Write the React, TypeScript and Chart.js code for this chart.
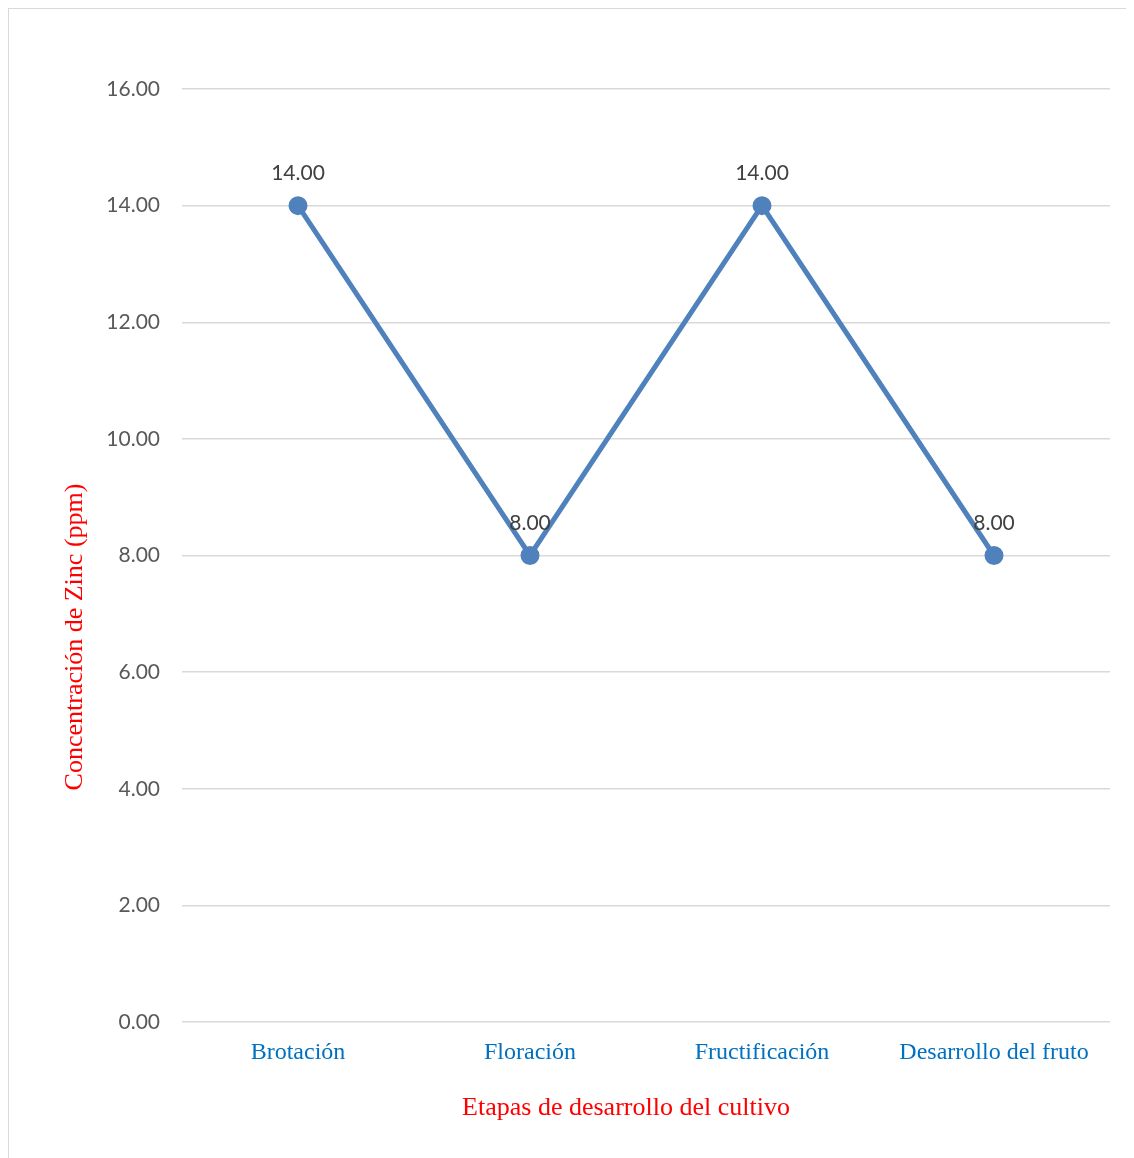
import React, { useEffect, useRef } from "react";
import { Chart, registerables } from "chart.js";

Chart.register(...registerables);

const categories = ["Brotación", "Floración", "Fructificación", "Desarrollo del fruto"];
const zincValues = [14, 8, 14, 8];
const yTitle = "Concentración de Zinc (ppm)";
const xTitle = "Etapas de desarrollo del cultivo";

const W = 1140;
const H = 1160;

export default function App() {
  const ref = useRef<HTMLCanvasElement | null>(null);
  useEffect(() => {
    document.documentElement.style.overflow = "hidden";
    const canvas = ref.current!;
    const labelsPlugin = {
      id: "customLabels",
      afterDatasetsDraw(chart: any) {
        const ctx = chart.ctx;
        const meta = chart.getDatasetMeta(0);
        ctx.save();
        ctx.font = "21px Lato";
        ctx.fillStyle = "#404040";
        ctx.textAlign = "center";
        ctx.textBaseline = "middle";
        meta.data.forEach((pt: any, i: number) => {
          ctx.fillText(zincValues[i].toFixed(2), pt.x, pt.y - 32);
        });
        ctx.restore();
      },
      afterDraw(chart: any) {
        const ctx = chart.ctx;
        ctx.save();
        ctx.font = "26px 'Liberation Serif', 'Times New Roman', serif";
        ctx.fillStyle = "#ff0000";
        ctx.textAlign = "center";
        ctx.textBaseline = "middle";
        ctx.fillText(xTitle, 617, 1099);
        ctx.translate(66, 628);
        ctx.rotate(-Math.PI / 2);
        ctx.fillText(yTitle, 0, 0);
        ctx.restore();
      },
    };
    const chart = new Chart(canvas, {
      type: "line",
      data: {
        labels: categories,
        datasets: [
          {
            data: zincValues,
            borderColor: "#4F81BD",
            backgroundColor: "#4F81BD",
            borderWidth: 5,
            pointRadius: 7,
            pointHoverRadius: 7,
            pointBackgroundColor: "#4F81BD",
            pointBorderColor: "#4F81BD",
            tension: 0,
          },
        ],
      },
      options: {
        responsive: false,
        animation: false,
        layout: { padding: { top: 80, right: 39, left: 0, bottom: 0 } },
        plugins: { legend: { display: false }, tooltip: { enabled: false }, title: { display: false } },
        scales: {
          x: {
            offset: true,
            grid: { display: false },
            border: { display: false },
            ticks: {
              color: "#0070C0",
              font: { family: "'Liberation Serif', 'Times New Roman', serif", size: 24 },
              padding: 8,
              maxRotation: 0,
              autoSkip: false,
            },
            afterFit: (s: any) => {
              s.height = H - 1013;
            },
          },
          y: {
            min: 0,
            max: 16,
            grid: { color: "#d9d9d9", lineWidth: 1.5, drawTicks: false },
            border: { display: false },
            ticks: {
              stepSize: 2,
              color: "#595959",
              font: { family: "Lato", size: 21 },
              padding: 22,
              callback: (v: any) => Number(v).toFixed(2),
            },
            afterFit: (s: any) => {
              s.width = 173;
            },
          },
        },
      },
      plugins: [labelsPlugin],
    });
    return () => chart.destroy();
  }, []);
  return (
    <div style={{ width: W, height: H, border: "1px solid #d9d9d9", background: "#fff" }}>
      <canvas ref={ref} width={W} height={H} style={{ display: "block" }} />
    </div>
  );
}
